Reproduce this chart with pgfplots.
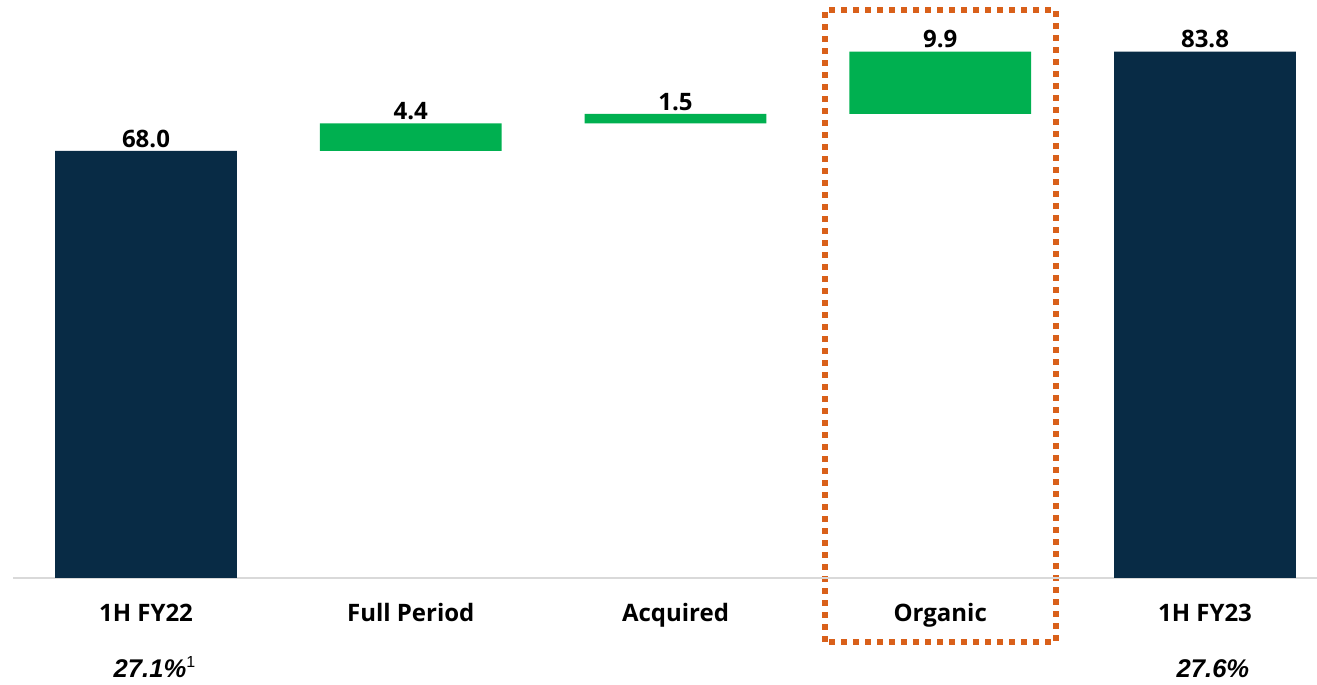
\documentclass[border=0pt]{standalone}
\usepackage{pgfplots}
\pgfplotsset{compat=1.18}
\usepackage{fontspec}
\setmainfont{Open Sans}
\newfontfamily\pctfont{Liberation Sans}

\definecolor{navy}{HTML}{082B45}
\definecolor{gain}{HTML}{00B050}
\definecolor{hilite}{HTML}{D9601A}
\definecolor{axisgray}{HTML}{D9D9D9}

\newcommand{\valfont}{\fontsize{12}{14}\selectfont\bfseries}
\newcommand{\pctstyle}{\pctfont\fontsize{12.8}{15}\selectfont\bfseries\itshape}
\tikzset{
  vallab/.style={font=\valfont, anchor=base, inner sep=0pt},
  pctlab/.style={font=\pctstyle, anchor=base, inner sep=0pt},
}

\begin{document}
\begin{tikzpicture}
\useasboundingbox (0,0) rectangle (658.5pt,342.5pt);
\begin{axis}[
  at={(0,0)}, anchor=south west,
  scale only axis, width=658.5pt, height=342.5pt,
  xmin=-0.5515, xmax=4.423,
  ymin=-17.04, ymax=92.04,
  hide axis, clip=false,
  ybar stacked, bar width=0.687,
]
% invisible base of the floating bars
\addplot[draw=none, fill=white, opacity=0] coordinates {(0,0) (1,68.0) (2,72.4) (3,73.9) (4,0)};
% totals
\addplot[draw=none, fill=navy] coordinates {(0,68.0) (1,0) (2,0) (3,0) (4,83.8)};
% increments
\addplot[draw=none, fill=gain] coordinates {(0,0) (1,4.4) (2,1.5) (3,9.9) (4,0)};

% baseline
\draw[axisgray, line width=1.3pt] (axis cs:-0.502,0) -- (axis cs:4.423,0);

% value labels
\node[vallab] at (axis cs:0,68.6) {68.0};
\node[vallab] at (axis cs:1,73.0) {4.4};
\node[vallab] at (axis cs:2,74.5) {1.5};
\node[vallab] at (axis cs:3,84.4) {9.9};
\node[vallab] at (axis cs:4,84.4) {83.8};
% category labels
\node[vallab] at (axis cs:0,-7.0) {1H FY22};
\node[vallab] at (axis cs:1,-7.0) {Full Period};
\node[vallab] at (axis cs:2,-7.0) {Acquired};
\node[vallab] at (axis cs:3,-7.0) {Organic};
\node[vallab] at (axis cs:4,-7.0) {1H FY23};

% margin labels
\node[pctlab] at (axis cs:0.015,-15.92) {27.1\%\rlap{\normalfont\pctfont\fontsize{8}{9}\selectfont\raisebox{5pt}{1}}};
\node[pctlab] at (axis cs:4.03,-15.92) {27.6\%};

% highlight frame
\draw[hilite, line width=2.8pt, dash pattern=on 2.8pt off 3.2pt]
  (axis cs:2.565,-10.19) rectangle (axis cs:3.437,90.45);
\end{axis}
\end{tikzpicture}
\end{document}
